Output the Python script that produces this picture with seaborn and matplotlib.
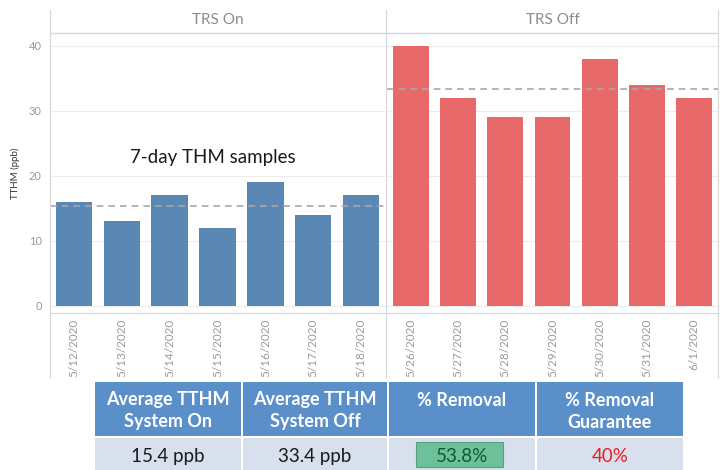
import matplotlib
matplotlib.use("Agg")
import matplotlib.pyplot as plt
import seaborn as sns
import pandas as pd
import numpy as np
from matplotlib.patches import Rectangle
from matplotlib.lines import Line2D

# ---- data ----
dates_on = ["5/12/2020", "5/13/2020", "5/14/2020", "5/15/2020", "5/16/2020", "5/17/2020", "5/18/2020"]
values_on = [16, 13, 17, 12, 19, 14, 17]
dates_off = ["5/26/2020", "5/27/2020", "5/28/2020", "5/29/2020", "5/30/2020", "5/31/2020", "6/1/2020"]
values_off = [40, 32, 29, 29, 38, 34, 32]
panel_titles = ["TRS On", "TRS Off"]
y_ticks = [0, 10, 20, 30, 40]
table_header = [["Average TTHM", "System On"], ["Average TTHM", "System Off"],
                ["% Removal"], ["% Removal", "Guarantee"]]
table_values = ["15.4 ppb", "33.4 ppb", "53.8%", "40%"]

sns.set_theme(style="white")
plt.rcParams['font.family'] = ['Lato', 'DejaVu Sans']

W, H = 727, 470
fig = plt.figure(figsize=(W / 100, H / 100), dpi=100)

def fx(px):
    return px / W

def fy(py):
    return 1 - py / H

blue = "#5b87b5"
red = "#e8696a"
grid_c = "#ececec"
line_c = "#d9d9d9"
tick_c = "#9a9a9a"

panels = [
    (50, 385, dates_on, values_on, blue),
    (387, 718, dates_off, values_off, red),
]
axes = []
for i, (x0, x1, dates, vals, col) in enumerate(panels):
    ax = fig.add_axes([fx(x0), fy(313), fx(x1) - fx(x0), fy(33) - fy(313)])
    df = pd.DataFrame({"date": dates, "value": vals})
    sns.barplot(data=df, x="date", y="value", order=dates, color=col,
                saturation=1, width=0.76, ax=ax, edgecolor="none")
    ax.set_xlim(-0.5, len(dates) - 0.5)
    ax.set_ylim(-1.1, 42)
    ax.set_yticks(y_ticks)
    for yv in y_ticks:
        ax.axhline(yv, color=grid_c, lw=0.8, zorder=0)
    avg = float(np.mean(vals))
    ax.axhline(avg, color="#a8a8a8", lw=1.2, ls=(0, (4, 3)), zorder=3)
    ax.set_xlabel("")
    ax.set_ylabel("")
    ax.tick_params(axis="x", labelrotation=90, labelsize=8.5, colors=tick_c, length=0, pad=4)
    ax.tick_params(axis="y", labelsize=8, colors=tick_c, length=0, pad=6)
    for s in ax.spines.values():
        s.set_visible(False)
    ax.spines["top"].set_visible(True)
    ax.spines["top"].set_color(line_c)
    ax.spines["top"].set_linewidth(0.9)
    ax.spines["bottom"].set_visible(True)
    ax.spines["bottom"].set_color(line_c)
    ax.spines["bottom"].set_linewidth(0.9)
    if i == 1:
        ax.set_yticklabels([])
    ax.text(0.5, (33 - 20) / (313 - 33) + 1, panel_titles[i], transform=ax.transAxes,
            ha="center", va="center", fontsize=11, color="#8c8c8c")
    axes.append(ax)

axes[0].set_ylabel("TTHM (ppb)", fontsize=7, color="#333333", labelpad=6)
axes[0].text(0.24, (313 - 157) / (313 - 33), "7-day THM samples", transform=axes[0].transAxes,
             ha="left", va="center", fontsize=13.5, color="#1a1a1a")

# panel separators / header lines
for xp in (50, 386, 718):
    fig.add_artist(Line2D([fx(xp), fx(xp)], [fy(10), fy(378)], color=line_c, lw=0.9))
fig.add_artist(Line2D([fx(50), fx(718)], [fy(33), fy(33)], color=line_c, lw=0.9))

# ---- table ----
tax = fig.add_axes([fx(93), fy(470), fx(685) - fx(93), fy(380) - fy(470)])
tax.set_xlim(93, 685)
tax.set_ylim(470, 380)
tax.axis("off")
col_edges = [94, 242, 388, 536, 684]
hdr_blue = "#5b8fc9"
val_bg = "#d8e0ee"
for j in range(4):
    a, b = col_edges[j], col_edges[j + 1]
    tax.add_patch(Rectangle((a + 1, 382), b - a - 2, 54, facecolor=hdr_blue, edgecolor="none"))
    tax.add_patch(Rectangle((a + 1, 438), b - a - 2, 32, facecolor=val_bg, edgecolor="none"))
    for k, line in enumerate(table_header[j]):
        tax.text((a + b) / 2, 400 + 22 * k, line, ha="center", va="center", fontsize=13,
                 fontweight="bold", color="white")
    tcol = "#1a1a1a"
    if j == 2:
        tax.add_patch(Rectangle((416, 442), 87, 25, facecolor="#6cc19b", edgecolor="#5a9e80", lw=0.8))
        tcol = "#0d5a2d"
    if j == 3:
        tcol = "#ee1c1c"
    tax.text((a + b) / 2, 456, table_values[j], ha="center", va="center", fontsize=13.5, color=tcol)

fig.savefig("out.png", dpi=100, facecolor="white")
